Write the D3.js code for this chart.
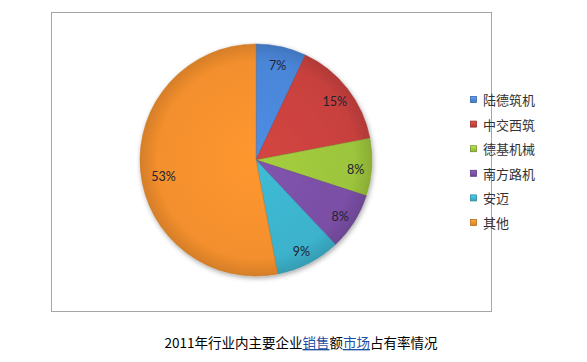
<!DOCTYPE html>
<html>
<head>
<meta charset="utf-8">
<script src="https://cdn.jsdelivr.net/npm/d3@7"></script>
<style>
	body { margin: 0; background: #fff; }
	svg { display: block; }
</style>
</head>
<body>
<div class="svg-container"></div>
<script>
(function () {

	"use strict";

	// data
	var categories = ["陆德筑机", "中交西筑", "德基机械", "南方路机", "安迈", "其他"];
	var shares = [7, 15, 8, 8, 9, 53];
	var colors = ["#4a86d8", "#c8413e", "#9cc43c", "#7a4fa5", "#3cb2cc", "#f38f2d"];
	var caption_parts = [
		{ "text": "2011年行业内主要企业", "link": false },
		{ "text": "销售", "link": true },
		{ "text": "额", "link": false },
		{ "text": "市场", "link": true },
		{ "text": "占有率情况", "link": false }
	];

	// layout
	var width = 587, height = 362;
	var frame = { "x": 51, "y": 12, "w": 440, "h": 299 },
		cx = 256, cy = 160, radius = 116;

	var svg = d3.select(".svg-container").append("svg")
		.attr("width", width)
		.attr("height", height);

	var defs = svg.append("defs");

	var shadow = defs.append("filter")
		.attr("id", "shadow")
		.attr("x", "-20%").attr("y", "-20%")
		.attr("width", "140%").attr("height", "140%");
	shadow.append("feDropShadow")
		.attr("dx", 1).attr("dy", 2)
		.attr("stdDeviation", 2.5)
		.attr("flood-color", "#000")
		.attr("flood-opacity", 0.35);

	colors.forEach(function (c, i) {
		var g = defs.append("radialGradient")
			.attr("id", "grad" + i)
			.attr("gradientUnits", "userSpaceOnUse")
			.attr("cx", 0).attr("cy", 0).attr("r", radius);
		g.append("stop").attr("offset", "0%").attr("stop-color", d3.color(c).brighter(0.15));
		g.append("stop").attr("offset", "85%").attr("stop-color", c);
		g.append("stop").attr("offset", "100%").attr("stop-color", d3.color(c).darker(0.35));

		var lg = defs.append("linearGradient")
			.attr("id", "leg" + i)
			.attr("x1", 0).attr("y1", 0).attr("x2", 0).attr("y2", 1);
		lg.append("stop").attr("offset", "0%").attr("stop-color", d3.color(c).brighter(0.5));
		lg.append("stop").attr("offset", "100%").attr("stop-color", d3.color(c).darker(0.3));
	});

	// chart frame
	svg.append("rect")
		.attr("x", frame.x + 0.5)
		.attr("y", frame.y + 0.5)
		.attr("width", frame.w)
		.attr("height", frame.h)
		.attr("fill", "#fff")
		.attr("stroke", "#a6a6a6")
		.attr("stroke-width", 1);

	// pie
	var pie = d3.pie().sort(null).value(function (d) { return d; });
	var arc = d3.arc().innerRadius(0).outerRadius(radius);
	var label_arc = d3.arc().innerRadius(radius * 0.86).outerRadius(radius * 0.86);
	var big_label_arc = d3.arc().innerRadius(radius * 0.8).outerRadius(radius * 0.8);

	var arcs = pie(shares);

	var pie_g = svg.append("g")
		.attr("transform", "translate(" + cx + "," + cy + ")");

	pie_g.append("g")
		.attr("filter", "url(#shadow)")
		.selectAll("path")
		.data(arcs)
		.enter()
		.append("path")
		.attr("d", arc)
		.attr("fill", function (d, i) { return "url(#grad" + i + ")"; })
		.attr("stroke", function (d, i) { return d3.color(colors[i]).darker(0.6); })
		.attr("stroke-width", 0.8)
		.attr("stroke-opacity", 0.6);

	pie_g.selectAll("text")
		.data(arcs)
		.enter()
		.append("text")
		.attr("transform", function (d, i) {
			var p = (i === arcs.length - 1) ? big_label_arc.centroid(d) : label_arc.centroid(d);
			// excel's best-fit nudges the labels slightly downward
			var nudge = (i === arcs.length - 1) ? 8 : 3;
			return "translate(" + p[0] + "," + (p[1] + nudge) + ")";
		})
		.attr("text-anchor", "middle")
		.attr("dy", "0.35em")
		.attr("font-family", "Lato, 'Open Sans', sans-serif")
		.attr("font-size", 12.5)
		.attr("fill", "#222230")
		.text(function (d) { return d.data + "%"; });

	// legend
	var legend = svg.append("g")
		.attr("transform", "translate(470,100)");

	var rows = legend.selectAll("g")
		.data(categories)
		.enter()
		.append("g")
		.attr("transform", function (d, i) { return "translate(0," + (i * 24.6) + ")"; });

	rows.append("rect")
		.attr("x", 0.5).attr("y", -3.5)
		.attr("width", 6).attr("height", 6)
		.attr("fill", function (d, i) { return "url(#leg" + i + ")"; })
		.attr("stroke", function (d, i) { return d3.color(colors[i]).darker(0.8); })
		.attr("stroke-width", 0.8);

	rows.append("text")
		.attr("x", 13)
		.attr("dy", "0.38em")
		.attr("font-family", "'Noto Sans CJK SC', sans-serif")
		.attr("font-size", 13)
		.attr("fill", "#333")
		.text(function (d) { return d; });

	// caption
	var caption = svg.append("text")
		.attr("x", 301)
		.attr("y", 348)
		.attr("text-anchor", "middle")
		.attr("font-family", "'Noto Sans CJK SC', sans-serif")
		.attr("font-size", 13.5)
		.attr("fill", "#000");

	caption.selectAll("tspan")
		.data(caption_parts)
		.enter()
		.append("tspan")
		.attr("fill", function (d) { return d.link ? "#1f4fa3" : "#000"; })
		.attr("text-decoration", function (d) { return d.link ? "underline" : null; })
		.text(function (d) { return d.text; });

})();
</script>
</body>
</html>
